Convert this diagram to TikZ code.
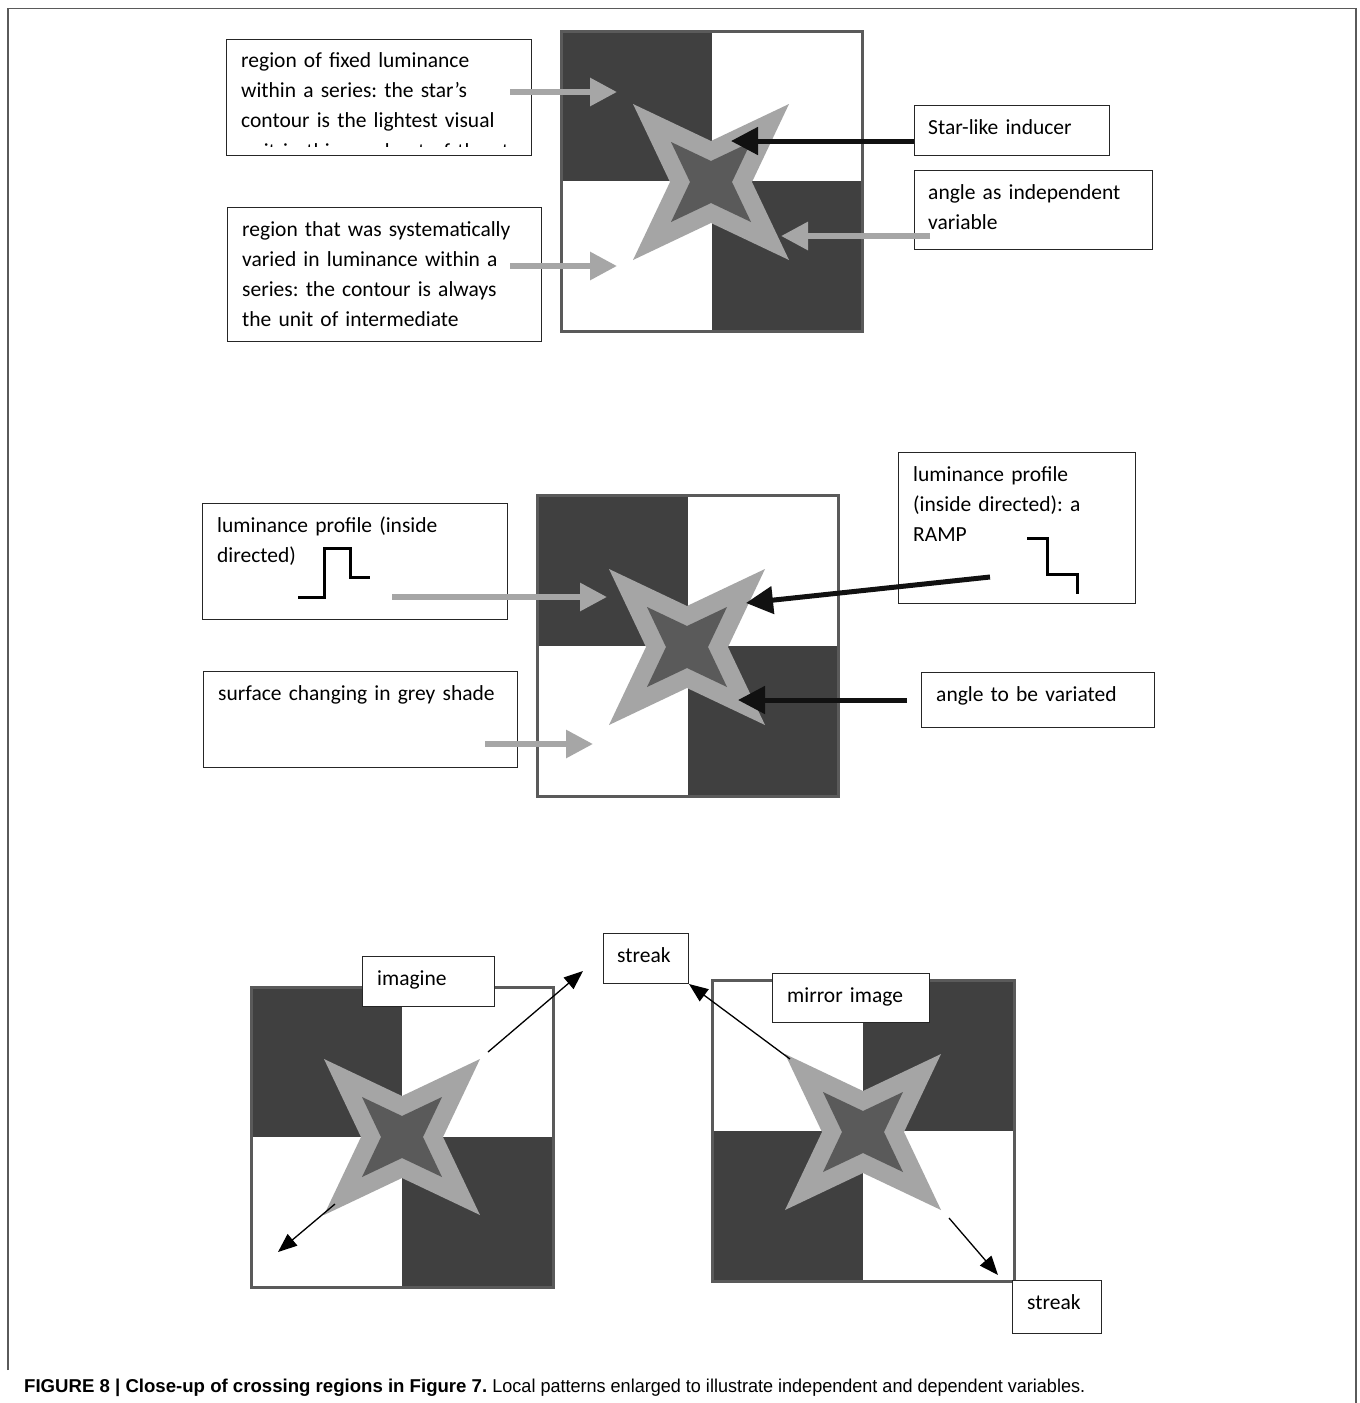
\documentclass[tikz,border=0pt]{standalone}
\usepackage{fontspec}
\setmainfont{Carlito}
\newfontfamily\capfont{Liberation Sans}
\usetikzlibrary{arrows.meta}
\frenchspacing
\definecolor{quaddark}{HTML}{404040}
\definecolor{sqedge}{HTML}{5A5A5A}
\definecolor{starlight}{HTML}{A5A5A5}
\definecolor{starmid}{HTML}{5A5A5A}
\definecolor{arrgray}{HTML}{A6A6A6}
\definecolor{arrblack}{HTML}{111111}
\tikzset{
  tbox/.style={draw=black!85, line width=1pt, fill=white, rectangle, inner sep=0pt, anchor=north west},
  ttext/.style={anchor=base west, inner sep=0pt, align=left, text width=330pt,
     font=\frenchspacing\fontsize{21.5}{30.3}\selectfont},
  grayarrow/.style={draw=arrgray, line width=6pt, -{Triangle[length=27pt,width=27pt]}},
  blackarrow/.style={draw=arrblack, line width=5pt, -{Triangle[length=27pt,width=27pt]}},
  thinarrow/.style={draw=black, line width=1.3pt, -{Triangle[length=19pt,width=15pt]}},
  stepline/.style={draw=black, line width=3pt},
  starpic/.pic={
    \fill[starlight] (-78,-78) -- (0,-41) -- (78,-78) -- (41,0) -- (78,78) -- (0,41) -- (-78,78) -- (-41,0) -- cycle;
    \fill[starmid] (-40,-40) -- (0,-21) -- (40,-40) -- (21,0) -- (40,40) -- (0,21) -- (-40,40) -- (-21,0) -- cycle;
  }
}
\newcommand{\checkerA}[4]{% dark TL & BR
  \fill[white] (#1,#2) rectangle (#3,#4);
  \fill[quaddark] (#1,#2) rectangle ({(#1+#3)/2},{(#2+#4)/2});
  \fill[quaddark] ({(#1+#3)/2},{(#2+#4)/2}) rectangle (#3,#4);
  \draw[sqedge, line width=3pt] (#1,#2) rectangle (#3,#4);
}
\newcommand{\checkerB}[4]{% dark TR & BL
  \fill[white] (#1,#2) rectangle (#3,#4);
  \fill[quaddark] ({(#1+#3)/2},#2) rectangle (#3,{(#2+#4)/2});
  \fill[quaddark] (#1,{(#2+#4)/2}) rectangle ({(#1+#3)/2},#4);
  \draw[sqedge, line width=3pt] (#1,#2) rectangle (#3,#4);
}
\begin{document}
\begin{tikzpicture}[x=1pt,y=-1pt]
\useasboundingbox[fill=white] (0,0) rectangle (1360,1403);
% outer frame
\draw[sqedge, line width=1.5pt] (8,1370) -- (8,8.5) -- (1356,8.5) -- (1356,1403);

% ================= Panel 1 =================
\checkerA{561}{31}{862}{331}
\pic at (711,182) {starpic};
\coordinate (s1tl) at (617,92);
\coordinate (s1bl) at (617,266);
\coordinate (s1tr) at (731,141);
\coordinate (s1br) at (781,236);

\node[tbox, minimum width=305pt, minimum height=116pt] (boxA) at (226,39) {};
\begin{scope}
  \clip (227,40) rectangle (530,146);
  \node[ttext] (txtA) at (241,67.3) {region of fixed luminance\\within a series: the star’s\\contour is the lightest visual\\unit in this quadrant of the star};
\end{scope}
\node[tbox, minimum width=314pt, minimum height=134pt] (boxB) at (227,207) {};
\node[ttext] (txtB) at (242,236) {region that was systematically\\varied in luminance within a\\series: the contour is always\\the unit of intermediate};
\node[tbox, minimum width=195pt, minimum height=50pt] (boxC) at (914,105) {};
\node[ttext] (txtC) at (928,134) {Star-like inducer};
\node[tbox, minimum width=238pt, minimum height=79pt] (boxD) at (914,170) {};
\node[ttext] (txtD) at (928,199) {angle as independent\\variable};

\coordinate (a1s) at (510,92);
\coordinate (b1s) at (510,266);
\coordinate (d1s) at (930,236);
\draw[grayarrow] (a1s) -- (s1tl);
\draw[grayarrow] (b1s) -- (s1bl);
\draw[grayarrow] (d1s) -- (s1br);
\draw[blackarrow] (boxC.west |- s1tr) -- (s1tr);

% ================= Panel 2 =================
\checkerA{537}{495}{838}{796}
\pic at (687,647) {starpic};
\coordinate (s2l) at (607,597);
\coordinate (s2bl) at (593,744);
\coordinate (s2tr) at (746,603);
\coordinate (s2br) at (738,700);

\node[tbox, minimum width=305pt, minimum height=116pt] (boxE) at (202,503) {};
\node[ttext] (txtE) at (217,532) {luminance profile (inside\\directed)};
\draw[stepline] (298,597) -- (324,597) -- (324,548) -- (350,548) -- (350,577) -- (370,577);
\node[tbox, minimum width=237pt, minimum height=151pt] (boxF) at (898,452) {};
\node[ttext] (txtF) at (913,481) {luminance profile\\(inside directed): a\\RAMP};
\draw[stepline] (1027,538) -- (1047,538) -- (1047,574) -- (1077,574) -- (1077,594);
\node[tbox, minimum width=314pt, minimum height=96pt] (boxG) at (203,671) {};
\node[ttext] (txtG) at (218,700) {surface changing in grey shade};
\node[tbox, minimum width=233pt, minimum height=55pt] (boxH) at (921,672) {};
\node[ttext] (txtH) at (936,701) {angle to be variated};

\coordinate (e2s) at (392,597);
\coordinate (g2s) at (485,744);
\coordinate (f2s) at (990,577);
\draw[grayarrow] (e2s) -- (s2l);
\draw[grayarrow] (g2s) -- (s2bl);
\draw[blackarrow] (f2s) -- (s2tr);
\draw[blackarrow] (907,700) -- (s2br);

% ================= Panel 3 left =================
\checkerA{251}{987}{553}{1287}
\pic at (402,1137) {starpic};
\node[tbox, minimum width=132pt, minimum height=50pt] (boxI) at (362,956) {};
\node[ttext] (txtI) at (377,985) {imagine};
\coordinate (l3a) at (488,1052);
\coordinate (l3b) at (583,971);
\coordinate (l3c) at (335,1204);
\coordinate (l3d) at (278,1252);
\draw[thinarrow] (l3a) -- (l3b);
\draw[thinarrow] (l3c) -- (l3d);

% ================= Panel 3 right =================
\checkerB{712}{980}{1014}{1281}
\pic at (863,1132) {starpic};
\node[tbox, minimum width=157pt, minimum height=49pt] (boxJ) at (772,973) {};
\node[ttext] (txtJ) at (787,1002) {mirror image};
\node[tbox, minimum width=85pt, minimum height=50pt] (boxK) at (603,933) {};
\node[ttext] (txtK) at (617,962) {streak};
\node[tbox, minimum width=89pt, minimum height=53pt] (boxL) at (1012,1280) {};
\node[ttext] (txtL) at (1027,1309) {streak};
\coordinate (r3a) at (790,1059);
\coordinate (r3b) at (949,1218);
\draw[thinarrow] (r3a) -- (boxK.south east);
\coordinate (r3d) at (998,1275);
\draw[thinarrow] (r3b) -- (r3d);

% ================= Caption =================
\node[anchor=base west, inner sep=0pt, font=\capfont\fontsize{18.6}{20}\selectfont] (cap) at (24,1392)
  {\textbf{FIGURE 8 | Close-up of crossing regions in Figure 7.} \scalebox{0.97}[1]{Local patterns enlarged to illustrate independent and dependent variables.}};
\end{tikzpicture}
\end{document}
